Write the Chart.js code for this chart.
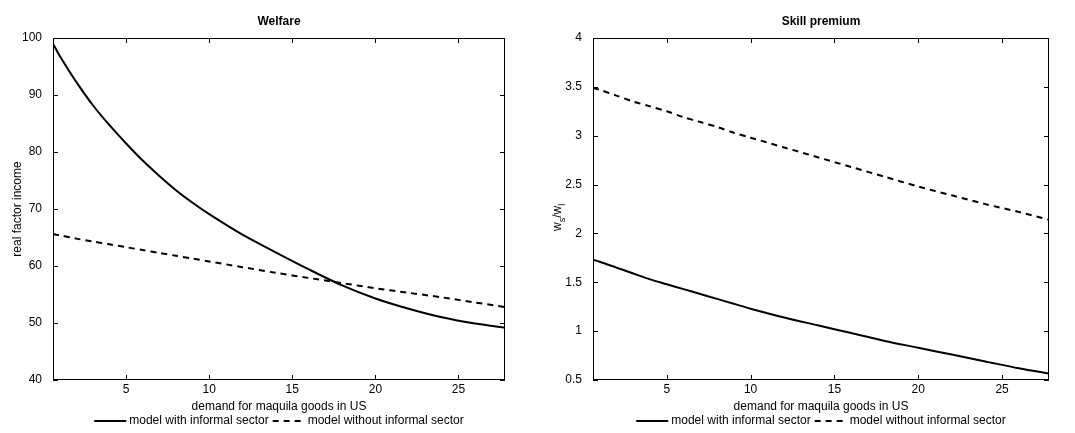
<!DOCTYPE html><html><head><script src="https://cdn.jsdelivr.net/npm/chart.js"></script>
<style>body{margin:0;background:#fff}.w{position:absolute;top:0;height:433px}</style></head><body>
<div class="w" style="left:0;width:530px"><canvas id="c1"></canvas></div>
<div class="w" style="left:540px;width:535px"><canvas id="c2"></canvas></div>
<script>
const xs = [0.6,1,2,3,4,5,6,7,8,9,10,12,14,16,18,20,22,24,26,28];
const welfareInf = [99,96.9,92.3,88.2,84.7,81.5,78.5,75.8,73.3,71.1,69.1,65.5,62.4,59.4,56.6,54.3,52.5,51,49.9,49.1];
const welfareNoInf = [65.6,65.4,64.8,64.3,63.8,63.3,62.8,62.3,61.8,61.3,60.8,59.8,58.8,57.9,57,56.1,55.3,54.5,53.6,52.7];
const skillInf = [1.73,1.71,1.65,1.59,1.53,1.48,1.43,1.38,1.33,1.28,1.23,1.14,1.06,0.98,0.9,0.83,0.76,0.69,0.62,0.56];
const skillNoInf = [3.49,3.47,3.41,3.35,3.30,3.25,3.19,3.14,3.09,3.03,2.98,2.88,2.78,2.68,2.58,2.48,2.39,2.30,2.22,2.13];
const xTicks = [5,10,15,20,25];
const F = 'Liberation Sans, Arial, sans-serif';
function make(id, title, a, b, yMin, yMax, yTicks, rightPad, ylabelFn){
  const frame = {id:'frame', afterDraw(ch){
    const c=ch.ctx, ca=ch.chartArea, x=ch.scales.x, y=ch.scales.y;
    c.save(); c.strokeStyle='#000'; c.lineWidth=1;
    c.strokeRect(ca.left+0.5,ca.top+0.5,ca.right-ca.left-1,ca.bottom-ca.top-1);
    c.beginPath();
    xTicks.forEach(v=>{const p=Math.round(x.getPixelForValue(v))+0.5;c.moveTo(p,ca.bottom);c.lineTo(p,ca.bottom-5);c.moveTo(p,ca.top);c.lineTo(p,ca.top+5);});
    yTicks.forEach(v=>{const p=Math.round(y.getPixelForValue(v))+0.5;c.moveTo(ca.left,p);c.lineTo(ca.left+5,p);c.moveTo(ca.right,p);c.lineTo(ca.right-5,p);});
    c.stroke();
    c.fillStyle='#000'; c.textAlign='center'; c.textBaseline='middle';
    c.font='bold 12px '+F; c.fillText(title,(ca.left+ca.right)/2,22);
    c.font='12px '+F; c.fillText('demand for maquila goods in US',(ca.left+ca.right)/2,407);
    const cx=(ca.left+ca.right)/2, ly=421;
    const t1='model with informal sector', t2='model without informal sector';
    const w1=c.measureText(t1).width, w2=c.measureText(t2).width;
    const tot=32+3+w1+4+32+3+w2; let sx=cx-tot/2;
    c.lineWidth=2; c.beginPath(); c.moveTo(sx,ly); c.lineTo(sx+32,ly); c.stroke();
    c.textAlign='left'; c.fillText(t1,sx+35,ly);
    sx+=35+w1+4; c.setLineDash([6,5]); c.beginPath(); c.moveTo(sx,ly); c.lineTo(sx+32,ly); c.stroke(); c.setLineDash([]);
    c.fillText(t2,sx+35,ly);
    ylabelFn(c,(ca.top+ca.bottom)/2);
    c.restore();
  }};
  new Chart(document.getElementById(id),{type:'line',
    data:{datasets:[
      {data:xs.map((v,i)=>({x:v,y:a[i]})),borderColor:'#000',borderWidth:2,pointRadius:0,tension:0.3},
      {data:xs.map((v,i)=>({x:v,y:b[i]})),borderColor:'#000',borderWidth:2,borderDash:[6,5],pointRadius:0,tension:0.3}]},
    options:{responsive:true,maintainAspectRatio:false,animation:false,
      layout:{padding:{top:38,right:rightPad,left:0,bottom:0}},
      plugins:{legend:{display:false},tooltip:{enabled:false}},
      scales:{
        x:{type:'linear',min:0.6,max:27.8,grid:{display:false},border:{display:false},
          afterBuildTicks(s){s.ticks=xTicks.map(v=>({value:v}));},
          afterFit(s){s.height=53;},
          ticks:{color:'#000',font:{family:F,size:12},padding:-6,maxRotation:0,callback:v=>String(v)}},
        y:{min:yMin,max:yMax,grid:{display:false},border:{display:false},
          afterBuildTicks(s){s.ticks=yTicks.map(v=>({value:v}));},
          afterFit(s){s.width=53;},
          ticks:{color:'#000',font:{family:F,size:12},padding:3,callback:v=>String(v)}}}},
    plugins:[frame]});
}
make('c1','Welfare',welfareInf,welfareNoInf,40,100,[40,50,60,70,80,90,100],25,(c,my)=>{
  c.save();c.translate(18,my);c.rotate(-Math.PI/2);c.textAlign='center';c.font='12px '+F;c.fillText('real factor income',0,0);c.restore();});
make('c2','Skill premium',skillInf,skillNoInf,0.5,4,[0.5,1,1.5,2,2.5,3,3.5,4],26,(c,my)=>{
  c.save();c.translate(18,my);c.rotate(-Math.PI/2);c.textAlign='left';c.font='12px '+F;
  let x=-22;c.fillText('w',x,0);x+=c.measureText('w').width;c.font='9px '+F;c.fillText('s',x,5);x+=c.measureText('s').width;
  c.font='12px '+F;c.fillText('/w',x,0);x+=c.measureText('/w').width;c.font='9px '+F;c.fillText('l',x,5);c.restore();});
</script></body></html>
